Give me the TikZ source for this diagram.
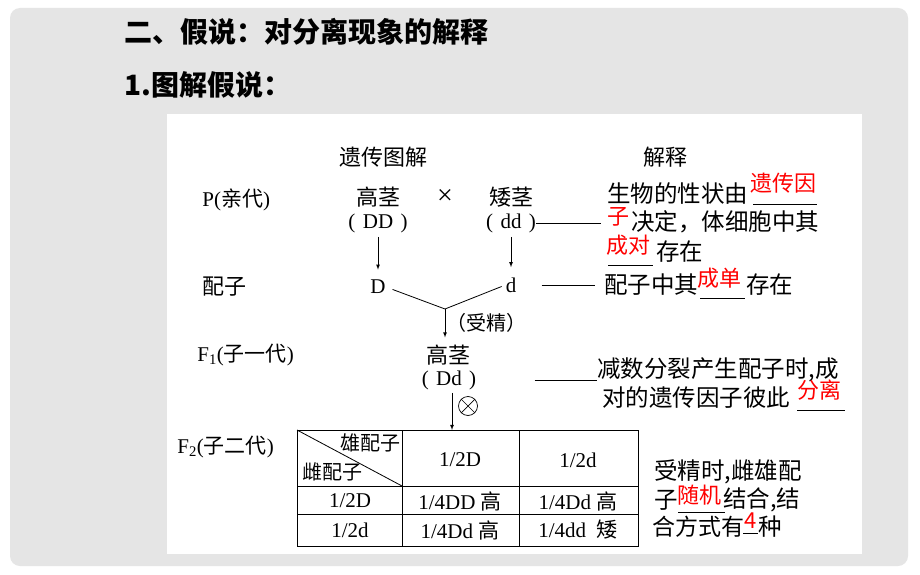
\documentclass[tikz,border=0pt]{standalone}
\usepackage{fontspec}
\setmainfont{Liberation Serif}
\newfontfamily\cjk{Noto Sans CJK SC}
\usepackage{tikz}
\usetikzlibrary{arrows}
\usetikzlibrary{positioning}
\newcommand{\zh}[1]{{\cjk #1}}

\begin{document}
\begin{tikzpicture}[x=1pt,y=-1pt,line width=0.8pt]
\tikzstyle{lbl} = [inner sep=0pt, font=\fontsize{21}{24}\selectfont]
\tikzstyle{zh} = [inner sep=0pt, font=\cjk\fontsize{22}{24}\selectfont]
\tikzstyle{small} = [inner sep=0pt, font=\cjk\fontsize{20}{22}\selectfont]
\tikzstyle{expl} = [inner sep=0pt, anchor=west, font=\cjk\fontsize{23.5}{26}\selectfont]
\tikzstyle{ans} = [inner sep=0pt, anchor=west, text=red, font=\cjk\fontsize{22}{24}\selectfont]
\tikzstyle{title} = [inner sep=0pt, anchor=west, font=\cjk\bfseries\fontsize{28}{30}\selectfont]
\tikzstyle{blank} = [draw, line width=0.8pt]
% background
\useasboundingbox (0,0) rectangle (920,575);
\fill[white] (0,0) rectangle (920,575);
\fill[black!10, rounded corners=10pt] (10,8) rectangle (908,566);
\fill[white] (167,114) rectangle (862,554);
% headings
\node[title] (t1) at (124,32) {二、假说：对分离现象的解释};
\node[title] (t2) at (124,85) {1.图解假说：};
% left column
\node[lbl, anchor=west] (p) at (202,200) {P(\zh{亲代})};
\node[zh, anchor=west] (gam) at (202,287) {配子};
\node[lbl, anchor=west] (f1) at (197,355) {F\textsubscript{1}(\zh{子一代})};
\node[lbl, anchor=west] (f2) at (177,447) {F\textsubscript{2}(\zh{子二代})};
% cross diagram
\node[zh] (head) at (383,157) {遗传图解};
\node[zh] (headr) at (665,157) {解释};
\node[zh] (tall) at (378,197) {高茎};
\node[lbl] (DD) at (378,223) {(\hspace{0.35em}DD\hspace{0.35em})};
\node[lbl, font=\fontsize{28}{28}\selectfont] (cross) at (445,197) {×};
\node[zh] (short) at (511,197) {矮茎};
\node[lbl] (dd) at (511,223) {(\hspace{0.35em}dd\hspace{0.35em})};
\node[lbl] (gD) at (378,287) {D};
\node[lbl] (gd) at (511,285) {d};
\coordinate (join) at (445,309);
\node[small, anchor=west] (fert) at (446,323) {（受精）};
\node[zh] (f1plant) at (448,355) {高茎};
\node[lbl] (Dd) at (449,380) {(\hspace{0.35em}Dd\hspace{0.35em})};
\node[circle, draw, line width=0.7pt, minimum size=19pt, inner sep=0pt] (self) at (468,406) {};
\draw[line width=0.7pt] (self.north west) -- (self.south east);
\draw[line width=0.7pt] (self.north east) -- (self.south west);
\coordinate (tabtop) at (452,430);
\draw[->,>=latex,shorten <=4pt,shorten >=10pt] (DD.south) -- (DD.south |- gD.north);
\draw[->,>=latex,shorten <=4pt,shorten >=10pt] (dd.south) -- (dd.south |- gd.north);
\draw[shorten <=7pt,shorten >=4pt] (gD.east) -- (join) -- (gd.west);
\draw[->,>=latex,shorten >=7pt] (join) -- (join |- f1plant.north);
\draw[->,>=latex,shorten <=3pt] (Dd.south -| tabtop) -- (tabtop);
% table
\draw (297,430) rectangle (638,546);
\draw (402,430) -- (402,546);
\draw (519,430) -- (519,546);
\draw (297,486) -- (638,486);
\draw (297,514) -- (638,514);
\draw (297,430) -- (402,486);
\node[small] (male) at (370,443) {雄配子};
\node[small] (female) at (332,472) {雌配子};
\node[lbl] (h1) at (460,460) {1/2D};
\node[lbl] (h2) at (578,460) {1/2d};
\node[lbl] (c11) at (350,501) {1/2D};
\node[lbl] (c12) at (460,501) {1/4DD \zh{高}};
\node[lbl] (c13) at (578,501) {1/4Dd \zh{高}};
\node[lbl] (c21) at (350,530) {1/2d};
\node[lbl] (c22) at (460,530) {1/4Dd \zh{高}};
\node[lbl] (c23) at (578,530) {1/4dd\enspace\zh{矮}};
% explanations
\node[expl] (r1) at (607,194) {生物的性状由};
\node[ans] (a1) at (750,183) {遗传因};
\node[ans] (a1b) at (607,217) {子};
\node[expl] (r2) at (631,222) {决定，体细胞中其};
\node[ans] (a2) at (606,245) {成对};
\node[expl] (r3) at (656,252) {存在};
\node[expl] (r4) at (604,285) {配子中其};
\node[ans] (a3) at (697,278) {成单};
\node[expl] (r5) at (746,285) {存在};
\node[expl] (r6) at (597,370) {减数分裂产生配子时,成};
\node[expl] (r7) at (602,398) {对的遗传因子彼此};
\node[ans] (a4) at (797,390) {分离};
\node[expl] (r8) at (654,472) {受精时,雌雄配};
\node[expl] (r9) at (654,500) {子};
\node[ans] (a5) at (677,495) {随机};
\node[expl] (r10) at (723,500) {结合,结};
\node[expl, font=\cjk\fontsize{23}{26}\selectfont] (r11) at (652,527) {合方式有};
\node[ans] (a6) at (744,521) {4};
\node[expl] (r12) at (758,527) {种};
% blanks
\draw[blank] ([xshift=3pt,yshift=-21pt]a1.west) -- ([yshift=-21pt]a1.east);
\draw[blank] ([xshift=2pt,yshift=-20pt]a2.west) -- ([xshift=2pt,yshift=-20pt]a2.east);
\draw[blank] ([xshift=3pt,yshift=-20pt]a3.west) -- ([xshift=3pt,yshift=-20pt]a3.east);
\draw[blank] ([yshift=-20pt]a4.west) -- ([xshift=3pt,yshift=-20pt]a4.east);
\draw[blank] ([xshift=1pt,yshift=-17pt]a5.west) -- ([xshift=3pt,yshift=-17pt]a5.east);
\draw[blank] ([xshift=-1pt,yshift=-12pt]a6.west) -- ([xshift=1pt,yshift=-12pt]a6.east);
% connectors to explanations
\draw[shorten >=6pt] (dd.east) -- (dd.east -| a1b.west);
\draw[shorten <=25pt,shorten >=9pt] (gd.east) -- (gd.east -| r4.west);
\draw[shorten <=58pt] (Dd.east) -- (Dd.east -| r6.west);
\end{tikzpicture}
\end{document}
